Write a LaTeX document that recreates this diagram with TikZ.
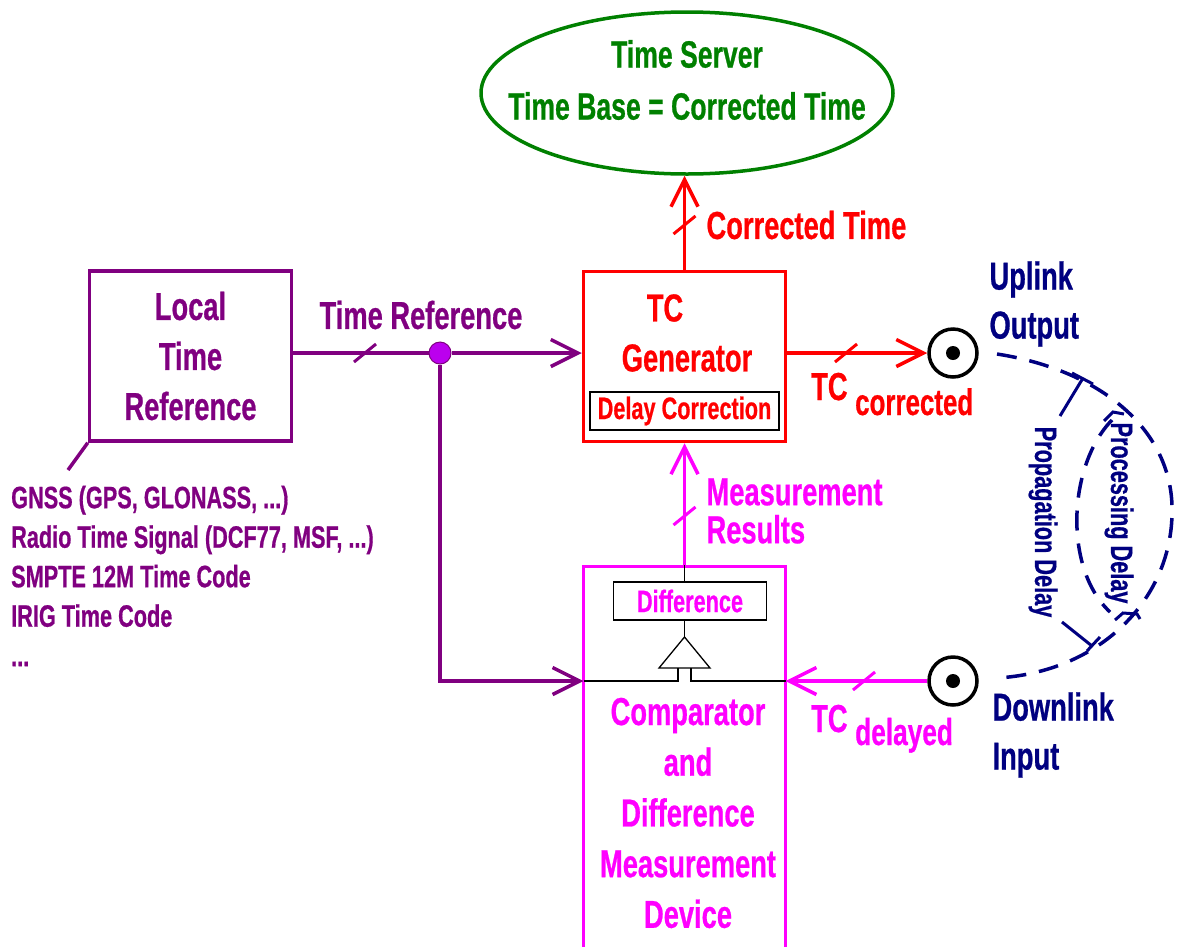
\documentclass[tikz,border=0pt]{standalone}
\usepackage{fontspec}
\newfontfamily\diagfont{Liberation Sans Bold}[FakeStretch=0.7, FakeBold=0.6]
\usetikzlibrary{arrows.meta, shapes.geometric, positioning}

\definecolor{srvgreen}{RGB}{0,128,0}
\definecolor{refpurple}{RGB}{128,0,128}
\definecolor{dotviolet}{RGB}{187,0,238}
\definecolor{cmpmagenta}{RGB}{255,0,255}
\definecolor{linknavy}{RGB}{0,0,128}

% short slash across a signal line
\newcommand{\slashmark}[2]{\draw[#1, line width=3pt] (#2) ++(-11,9) -- ++(22,-18);}

\begin{document}
\begin{tikzpicture}[x=1pt, y=-1pt,
  box/.style={rectangle, draw, line width=3.5pt, minimum width=202, minimum height=170},
  subbox/.style={rectangle, draw=black, line width=1.3pt, minimum width=153, minimum height=38, inner sep=0pt},
  arrow/.style={-{Straight Barb[length=27pt, width=27pt]}, line width=3.5pt},
  big/.style={font=\diagfont\fontsize{39}{50}\selectfont},
  mid/.style={font=\diagfont\fontsize{31}{39.5}\selectfont},
  dlabel/.style={font=\diagfont\fontsize{31}{31}\selectfont, text=linknavy},
  dashline/.style={draw=linknavy, line width=3.5pt, dash pattern=on 20pt off 13pt},
  port/.style={circle, draw=black, line width=3.5pt, minimum size=48, inner sep=0pt}
]
\useasboundingbox (0,0) rectangle (1180,946);
\clip (0,0) rectangle (1180,946);

% blocks
\node[ellipse, draw=srvgreen, line width=3.5pt, minimum width=412, minimum height=162] (server) at (687,93) {};
\node[big, text=srvgreen, align=center, font=\diagfont\fontsize{38}{52}\selectfont] (srvtext) at (687,80) {Time Server\\Time Base = Corrected Time};

\node[box, draw=refpurple, text=refpurple, big, align=center] (ltr) at (190.5,356) {Local\\Time\\Reference};
\node[box, draw=red] (gen) at (684.5,356.5) {};
\node[big, text=red] (gentc) at (665,308) {TC};
\node[big, text=red] (genname) at (687,358) {Generator};
\node[subbox, minimum width=189, text=red, mid] (delaycorr) at (684.5,411) {Delay Correction};

\node[box, draw=cmpmagenta, minimum height=434] (cmp) at (684.5,783.5) {};
\node[subbox, text=cmpmagenta, mid] (diff) at (690,601) {Difference};
\node[big, text=cmpmagenta, align=center, font=\diagfont\fontsize{39}{50.7}\selectfont] (cmptext) at (688,813) {Comparator\\and\\Difference\\Measurement\\Device};

\node[port] (uplink) at (953,353) {};
\node[port] (downlink) at (953,681) {};
\fill (uplink.center) circle (7);
\fill (downlink.center) circle (7);

\node[circle, fill=dotviolet, draw=refpurple, line width=1pt, minimum size=22, inner sep=0pt] (dot) at (440,353) {};

% comparator inside
\coordinate (apex) at (684.5,637);
\coordinate (inleft) at (583.5,681);
\coordinate (inright) at (785.5,681);
\draw[line width=1.3pt] (cmp.north) -- (cmp.north |- diff.north);
\draw[line width=1.3pt] (cmp.north |- diff.south) -- (apex);
\draw[line width=1.3pt] (apex) -- (659,668) -- (710,668) -- cycle;
\draw[line width=1.3pt] (inleft) -- (678,681) -- (678,668);
\draw[line width=1.3pt] (inright) -- (691,681) -- (691,668);

% signals
\draw[refpurple, line width=3.5pt] (ltr.east |- dot) -- (dot.west);
\draw[refpurple, arrow] (dot.east) -- (gen.west |- dot);
\draw[refpurple, arrow] (dot.south) |- (inleft);
\draw[red, arrow] (gen.north) -- (gen.north |- server.south);
\draw[red, arrow] (gen.east |- uplink) -- (uplink.west);
\draw[cmpmagenta, arrow] (cmp.north) -- (gen.south);
\draw[cmpmagenta, arrow] (downlink.west) -- (inright);

\slashmark{refpurple}{365,353}
\slashmark{red}{684.5,225}
\slashmark{red}{846,353}
\slashmark{cmpmagenta}{684.5,516}
\slashmark{cmpmagenta}{864,681}

% labels
\node[big, text=red, anchor=west] (ctlabel) at (703,225) {Corrected Time};
\node[big, text=refpurple] (trlabel) at (421,315) {Time Reference};
\node[big, text=cmpmagenta, anchor=west, align=left, font=\diagfont\fontsize{39}{38}\selectfont] (mrlabel) at (703,511) {Measurement\\Results};
\node[big, text=red, anchor=base west, inner sep=0pt] (tccorr) at (811,400) {TC \raisebox{-15pt}{\fontsize{37}{37}\selectfont corrected}};
\node[big, text=cmpmagenta, anchor=base west, inner sep=0pt] (tcdel) at (811,732) {TC \raisebox{-13pt}{\fontsize{37.5}{37}\selectfont delayed}};
\node[big, text=linknavy, anchor=west, align=left, font=\diagfont\fontsize{39}{49}\selectfont] (uptext) at (986,304) {Uplink\\Output};
\node[big, text=linknavy, anchor=west, align=left, font=\diagfont\fontsize{39}{49}\selectfont] (downtext) at (989,735) {Downlink\\Input};

% time sources
\coordinate (srcpt) at (68,470);
\draw[refpurple, line width=3.5pt] (ltr.south west) -- (srcpt);
\node[mid, text=refpurple, anchor=west, align=left, inner sep=0pt] (sources) at (11,576) {GNSS (GPS, GLONASS, ...)\\Radio Time Signal (DCF77, MSF, ...)\\SMPTE 12M Time Code\\IRIG Time Code\\...};

% delay path
\draw[dashline] (997,354) .. controls (1100,370) and (1175,430) .. (1172,515)
  .. controls (1170,600) and (1100,672) .. (997,678);
\draw[dashline] (1112,420) .. controls (1068,465) and (1063,568) .. (1110,612);
\draw[linknavy, line width=3pt] (1104,421) -- (1113,412) -- (1124,414);
\draw[linknavy, line width=3pt] (1115,620) -- (1123,613) -- (1137,614) -- (1140,619);
\draw[linknavy, line width=3pt] (1060,416) -- (1083,378);
\draw[linknavy, line width=3pt] (1072,373) -- (1093,384);
\draw[linknavy, line width=3pt] (1062,622) -- (1092,646);
\draw[linknavy, line width=3pt] (1087,651) -- (1100,637);
\node[dlabel, rotate=-90] (propdelay) at (1043,522) {Propagation Delay};
\node[dlabel, rotate=-90] (procdelay) at (1119,513) {Processing Delay};

\end{tikzpicture}
\end{document}
